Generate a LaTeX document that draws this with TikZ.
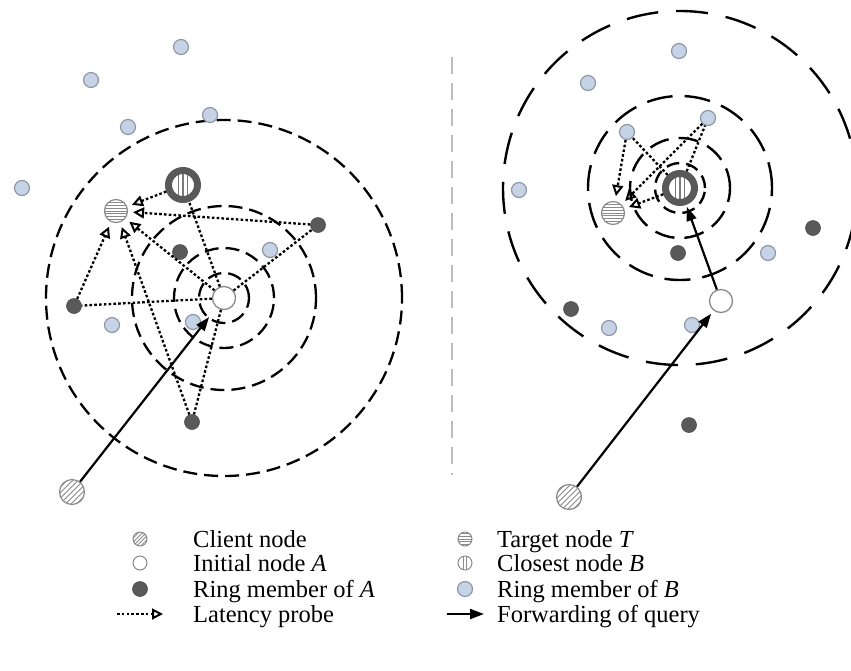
\documentclass[tikz,border=0pt]{standalone}
\usepackage{fontspec}
\setmainfont{Liberation Serif}
\usetikzlibrary{arrows.meta}
\definecolor{darkn}{HTML}{595959}
\definecolor{lightb}{HTML}{C6D3E6}
\definecolor{lightbd}{HTML}{8E98A6}
\definecolor{strp}{HTML}{8A8A8A}
\definecolor{divg}{HTML}{BDBDBD}
\tikzset{
 ringA/.style={circle, fill=darkn, draw=darkn!85!black, line width=0.6pt, minimum size=15pt, inner sep=0pt},
 ringB/.style={circle, fill=lightb, draw=lightbd, line width=1.2pt, minimum size=15pt, inner sep=0pt},
 initA/.style={circle, fill=white, draw=strp, line width=1.3pt, minimum size=23pt, inner sep=0pt},
 targetT/.style={circle, fill=white, draw=strp, line width=1.2pt, minimum size=23pt, inner sep=0pt,
   path picture={\foreach \k in {-4,...,4} \draw[strp, line width=1pt] ([yshift=\k*2.8pt]path picture bounding box.west) -- ([yshift=\k*2.8pt]path picture bounding box.east);}},
 closeB/.style={circle, fill=white, draw=darkn, line width=7pt, minimum size=29pt, inner sep=0pt,
   path picture={\foreach \k in {-1,0,1} \draw[darkn!80, line width=1.5pt] ([xshift=\k*4.5pt]path picture bounding box.north) -- ([xshift=\k*4.5pt]path picture bounding box.south);}},
 client/.style={circle, fill=white, draw=strp, line width=1.2pt, minimum size=25pt, inner sep=0pt,
   path picture={\foreach \k in {-5,...,5} \draw[strp, line width=1pt] ([xshift=\k*5.5pt]path picture bounding box.center) ++(-20pt,-20pt) -- ++(40pt,40pt);}},
 lgT/.style={circle, fill=white, draw=strp, line width=1pt, minimum size=14pt, inner sep=0pt,
   path picture={\foreach \k in {-2,...,2} \draw[strp, line width=0.8pt] ([yshift=\k*2.8pt]path picture bounding box.west) -- ([yshift=\k*2.8pt]path picture bounding box.east);}},
 lgB/.style={circle, fill=white, draw=strp, line width=1pt, minimum size=14pt, inner sep=0pt,
   path picture={\foreach \k in {-1,1} \draw[strp, line width=0.8pt] ([xshift=\k*1.8pt]path picture bounding box.north) -- ([xshift=\k*1.8pt]path picture bounding box.south);}},
 lgC/.style={circle, fill=white, draw=strp, line width=1pt, minimum size=14pt, inner sep=0pt,
   path picture={\foreach \k in {-4,...,4} \draw[strp, line width=0.8pt] ([xshift=\k*3.8pt]path picture bounding box.center) ++(-12pt,-12pt) -- ++(24pt,24pt);}},
 lgA/.style={circle, fill=white, draw=strp, line width=1pt, minimum size=14pt, inner sep=0pt},
 ringL/.style={line width=2.3pt, dash pattern=on 14pt off 7pt},
 ringR1/.style={line width=2.4pt, dash pattern=on 13pt off 7pt},
 ringR2/.style={line width=2.4pt, dash pattern=on 20pt off 10pt},
 ringR3/.style={line width=2.4pt, dash pattern=on 26pt off 12pt},
 ringR4/.style={line width=2.4pt, dash pattern=on 32pt off 18pt},
 link/.style={line width=2.3pt, dash pattern=on 2.6pt off 2.2pt},
 probe/.style={line width=2.3pt, dash pattern=on 2.6pt off 2.2pt, -{Triangle[open,length=11pt,width=11pt,line width=2pt]}, shorten >=5pt},
 fwd/.style={line width=2.2pt, -{Triangle[length=14pt,width=10pt]}},
 lt/.style={anchor=base west, font=\fontsize{24.5pt}{28pt}\selectfont, inner sep=0pt},
}
\begin{document}
\begin{tikzpicture}[x=1pt,y=-1pt]
\useasboundingbox (0,0) rectangle (851,670);
% divider
\draw[divg, line width=2.5pt, dash pattern=on 17pt off 9pt] (452,57) -- (452,475);

% ---------- left panel ----------
\coordinate (LAc) at (224,298);
\draw[ringL] (LAc) circle[radius=25pt];
\draw[ringL] (LAc) circle[radius=50pt];
\draw[ringL] (LAc) circle[radius=92pt];
\draw[ringL] (LAc) circle[radius=178pt];

\node[initA] (LA) at (LAc) {};
\node[closeB] (LB) at (183,185) {};
\node[targetT] (LT) at (116,211) {};
\node[client] (LC) at (72,492) {};
\node[ringA] (La1) at (180,252) {};
\node[ringA] (La2) at (318,225) {};
\node[ringA] (La3) at (74,306) {};
\node[ringA] (La4) at (192,422) {};
\node[ringB] (Lb1) at (181,47) {};
\node[ringB] (Lb2) at (91,80) {};
\node[ringB] (Lb3) at (128,127) {};
\node[ringB] (Lb4) at (210,115) {};
\node[ringB] (Lb5) at (22,188) {};
\node[ringB] (Lb6) at (270,250) {};
\node[ringB] (Lb7) at (112,325) {};
\node[ringB] (Lb8) at (193,322) {};

\draw[link] (LA) -- (La3);
\draw[link] (LA) -- (La2);
\draw[link] (LA) -- (LB);
\draw[link] (LA) -- (La4);
\draw[probe] (LB) -- (LT);
\draw[probe] (La2) -- (LT);
\draw[probe] (LA) -- (LT);
\draw[probe] (La3) -- (LT);
\draw[probe] (La4) -- (LT);
\draw[fwd, shorten >=12pt] (LC) -- (LA);

% ---------- right panel ----------
\coordinate (RBc) at (680,188);
\draw[ringR1] (RBc) circle[radius=25pt];
\draw[ringR2] (RBc) circle[radius=50pt];
\draw[ringR3] (RBc) circle[radius=92pt];
\draw[ringR4] (RBc) circle[radius=177pt];

\node[closeB] (RB) at (RBc) {};
\node[initA] (RA) at (721,301) {};
\node[targetT] (RT) at (613,213) {};
\node[client] (RC) at (569,497) {};
\node[ringA] (Ra1) at (678,253) {};
\node[ringA] (Ra2) at (813,228) {};
\node[ringA] (Ra3) at (571,309) {};
\node[ringA] (Ra4) at (689,425) {};
\node[ringB] (Rb1) at (627,132) {};
\node[ringB] (Rb2) at (708,118) {};
\node[ringB] (Rb3) at (519,190) {};
\node[ringB] (Rb4) at (768,253) {};
\node[ringB] (Rb5) at (609,328) {};
\node[ringB] (Rb6) at (692,325) {};
\node[ringB] (Rb7) at (679,51) {};
\node[ringB] (Rb8) at (588,83) {};

\draw[link] (RB) -- (Rb1);
\draw[link] (RB) -- (Rb2);
\draw[probe] (Rb1) -- (RT);
\draw[probe] (Rb2) -- (RT);
\draw[probe] (RB) -- (RT);
\draw[fwd, shorten >=4pt] (RC) -- (RA);
\draw[fwd, shorten >=2pt] (RA) -- (RB);

% ---------- legend ----------
\node[lgC] (k1) at (140,539) {};
\node[lgA] (k2) at (140,563) {};
\node[ringA] (k3) at (140,589) {};
\coordinate (k4a) at (117,614);
\coordinate (k4b) at (163,614);
\draw[probe, shorten >=0pt] (k4a) -- (k4b);
\node[lgT] (m1) at (465,539) {};
\node[lgB] (m2) at (465,563) {};
\node[ringB] (m3) at (465,589) {};
\coordinate (m4a) at (447,614);
\coordinate (m4b) at (484,614);
\draw[fwd] (m4a) -- (m4b);

\node[lt] (t1) at (193,547) {Client node};
\node[lt] (t2) at (193,571) {Initial node \textit{A}};
\node[lt] (t3) at (193,597) {Ring member of \textit{A}};
\node[lt] (t4) at (193,622) {Latency probe};
\node[lt] (u1) at (497,547) {Target node \textit{T}};
\node[lt] (u2) at (497,571) {Closest node \textit{B}};
\node[lt] (u3) at (497,597) {Ring member of \textit{B}};
\node[lt] (u4) at (497,622) {Forwarding of query};
\end{tikzpicture}
\end{document}
